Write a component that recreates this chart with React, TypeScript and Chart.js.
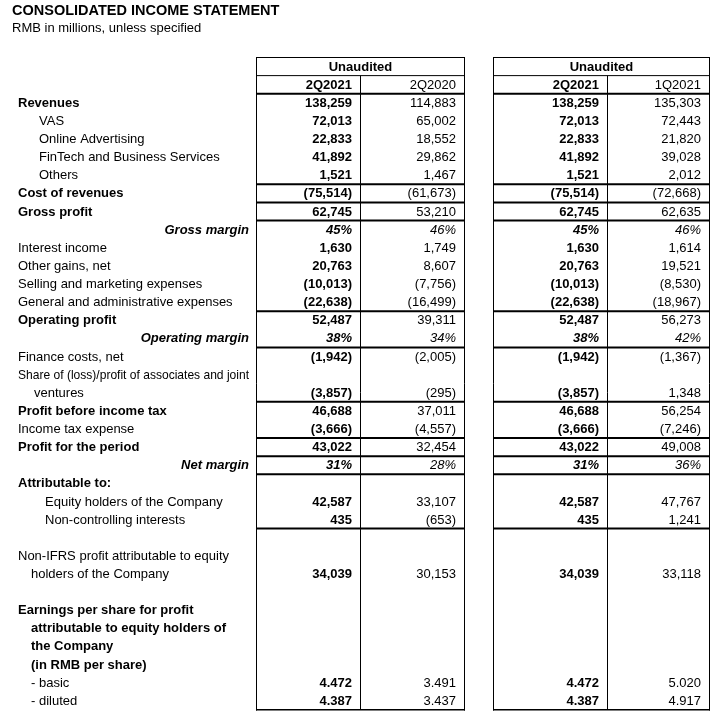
import React, { useEffect, useRef } from "react";
import { Chart, registerables } from "chart.js";

Chart.register(...registerables);

// ---------------- data ----------------
const TITLE = "CONSOLIDATED INCOME STATEMENT";
const SUBTITLE = "RMB in millions, unless specified";
const GROUP_HEADER = "Unaudited";
const PERIODS = ["2Q2021", "2Q2020", "2Q2021", "1Q2021"];

const ROW_LABELS = [
  "Revenues",
  "VAS",
  "Online Advertising",
  "FinTech and Business Services",
  "Others",
  "Cost of revenues",
  "Gross profit",
  "Gross margin",
  "Interest income",
  "Other gains, net",
  "Selling and marketing expenses",
  "General and administrative expenses",
  "Operating profit",
  "Operating margin",
  "Finance costs, net",
  "Share of (loss)/profit of associates and joint",
  "ventures",
  "Profit before income tax",
  "Income tax expense",
  "Profit for the period",
  "Net margin",
  "Attributable to:",
  "Equity holders of the Company",
  "Non-controlling interests",
  "",
  "Non-IFRS profit attributable to equity",
  "holders of the Company",
  "",
  "Earnings per share for profit",
  "attributable to equity holders of",
  "the Company",
  "(in RMB per share)",
  "- basic",
  "- diluted",
];

// value kinds per row: a = amount (RMB mn), p = percent, e = per-share, - = none
const ROW_KINDS = "aaaaaaapaaaaapa-aaaapaaa--a-----ee".split("");

const Q2_2021 = [
  138259, 72013, 22833, 41892, 1521, -75514, 62745, 45, 1630, 20763, -10013,
  -22638, 52487, 38, -1942, null, -3857, 46688, -3666, 43022, 31, null, 42587,
  435, null, null, 34039, null, null, null, null, null, 4.472, 4.387,
];
const Q2_2020 = [
  114883, 65002, 18552, 29862, 1467, -61673, 53210, 46, 1749, 8607, -7756,
  -16499, 39311, 34, -2005, null, -295, 37011, -4557, 32454, 28, null, 33107,
  -653, null, null, 30153, null, null, null, null, null, 3.491, 3.437,
];
const Q2_2021_QOQ = [
  138259, 72013, 22833, 41892, 1521, -75514, 62745, 45, 1630, 20763, -10013,
  -22638, 52487, 38, -1942, null, -3857, 46688, -3666, 43022, 31, null, 42587,
  435, null, null, 34039, null, null, null, null, null, 4.472, 4.387,
];
const Q1_2021 = [
  135303, 72443, 21820, 39028, 2012, -72668, 62635, 46, 1614, 19521, -8530,
  -18967, 56273, 42, -1367, null, 1348, 56254, -7246, 49008, 36, null, 47767,
  1241, null, null, 33118, null, null, null, null, null, 5.02, 4.917,
];

const VALUE_COLUMNS = [Q2_2021, Q2_2020, Q2_2021_QOQ, Q1_2021];

// ---------------- styles / layout ----------------
const FONT = '"Liberation Sans", Arial, Helvetica, sans-serif';

// per row: weight, italic flag, indent key, border below (px width, 0 none)
type RowStyle = { bold: boolean; italic?: boolean; indent: string; border: number };
const ROW_STYLES: RowStyle[] = [
  { bold: true, indent: "l0", border: 0 },
  { bold: false, indent: "sub", border: 0 },
  { bold: false, indent: "sub", border: 0 },
  { bold: false, indent: "sub", border: 0 },
  { bold: false, indent: "sub", border: 2 },
  { bold: true, indent: "l0", border: 2 },
  { bold: true, indent: "l0", border: 2 },
  { bold: true, italic: true, indent: "right", border: 0 },
  { bold: false, indent: "l0", border: 0 },
  { bold: false, indent: "l0", border: 0 },
  { bold: false, indent: "l0", border: 0 },
  { bold: false, indent: "l0", border: 2 },
  { bold: true, indent: "l0", border: 0 },
  { bold: true, italic: true, indent: "right", border: 2 },
  { bold: false, indent: "l0", border: 0 },
  { bold: false, indent: "l0", border: 0 },
  { bold: false, indent: "wrapA", border: 2 },
  { bold: true, indent: "l0", border: 0 },
  { bold: false, indent: "l0", border: 2 },
  { bold: true, indent: "l0", border: 2 },
  { bold: true, italic: true, indent: "right", border: 2 },
  { bold: true, indent: "l0", border: 0 },
  { bold: false, indent: "attr", border: 0 },
  { bold: false, indent: "attr", border: 2 },
  { bold: false, indent: "l0", border: 0 },
  { bold: false, indent: "l0", border: 0 },
  { bold: false, indent: "wrapB", border: 0 },
  { bold: false, indent: "l0", border: 0 },
  { bold: true, indent: "l0", border: 0 },
  { bold: true, indent: "wrapB", border: 0 },
  { bold: true, indent: "wrapB", border: 0 },
  { bold: true, indent: "wrapB", border: 0 },
  { bold: false, indent: "wrapB", border: 0 },
  { bold: false, indent: "wrapB", border: 0 },
];

const LAYOUT = {
  width: 714,
  height: 716,
  tableTop: 57.5,
  tableBottom: 709.8,
  titleX: 12,
  titleBaseline: 15,
  subtitleBaseline: 32,
  boxes: [
    [256.5, 464.5],
    [493.5, 709.5],
  ],
  dividers: [360.5, 607.5],
  cellPadRight: 8.5,
  indents: { l0: 18, sub: 39, attr: 45, wrapA: 34, wrapB: 31 } as Record<string, number>,
  labelRight: 249,
  fontSize: 13,
};

const HEADER_ROWS = 2; // "Unaudited" row + period row
const ALL_ROWS = [GROUP_HEADER, "Period", ...ROW_LABELS];

function formatValue(v: number | null, kind: string): string {
  if (v === null || v === undefined) return "";
  if (kind === "p") return `${v}%`;
  if (kind === "e") return v.toFixed(3);
  const s = Math.abs(v).toLocaleString("en-US");
  return v < 0 ? `(${s})` : s;
}

function font(bold: boolean, italic = false, size = LAYOUT.fontSize) {
  return `${italic ? "italic " : ""}${bold ? "bold " : ""}${size}px ${FONT}`;
}

const tablePlugin = {
  id: "incomeStatementTable",
  afterDraw(chart: any) {
    const ctx: CanvasRenderingContext2D = chart.ctx;
    const xs = chart.scales.x;
    const ys = chart.scales.y;
    const px = (v: number) => xs.getPixelForValue(v);
    const py = (i: number) => ys.getPixelForValue(i);
    const edge = (i: number) => py(i - 0.5); // boundary above row i

    ctx.save();
    ctx.fillStyle = "#000";
    ctx.strokeStyle = "#000";

    // title + subtitle
    ctx.textAlign = "left";
    ctx.textBaseline = "alphabetic";
    ctx.font = font(true, false, 14.5);
    ctx.fillText(TITLE, px(LAYOUT.titleX), LAYOUT.titleBaseline);
    ctx.font = font(false, false, 13);
    ctx.fillText(SUBTITLE, px(LAYOUT.titleX), LAYOUT.subtitleBaseline);

    const nRows = ALL_ROWS.length;
    const hline = (yy: number, w: number) => {
      ctx.lineWidth = w;
      LAYOUT.boxes.forEach(([a, b]) => {
        ctx.beginPath();
        ctx.moveTo(px(a) - 0.5, yy);
        ctx.lineTo(px(b) + 0.5, yy);
        ctx.stroke();
      });
    };

    // horizontal borders
    hline(edge(0), 1);
    hline(edge(1), 1);
    hline(edge(2), 2);
    ROW_STYLES.forEach((st, r) => {
      if (st.border) hline(edge(r + HEADER_ROWS + 1), st.border);
    });
    hline(edge(nRows), 1.5);

    // vertical borders
    ctx.lineWidth = 1;
    LAYOUT.boxes.forEach(([a, b]) => {
      [a, b].forEach((xx) => {
        ctx.beginPath();
        ctx.moveTo(px(xx), edge(0) - 0.5);
        ctx.lineTo(px(xx), edge(nRows) + 0.75);
        ctx.stroke();
      });
    });
    LAYOUT.dividers.forEach((xx) => {
      ctx.beginPath();
      ctx.moveTo(px(xx), edge(1));
      ctx.lineTo(px(xx), edge(nRows));
      ctx.stroke();
    });

    // headers
    ctx.textBaseline = "middle";
    ctx.textAlign = "center";
    ctx.font = font(true);
    LAYOUT.boxes.forEach(([a, b]) => {
      ctx.fillText(GROUP_HEADER, px((a + b) / 2), py(0) + 0.5);
    });
    const colRight = (c: number) =>
      c % 2 === 0 ? LAYOUT.dividers[Math.floor(c / 2)] : LAYOUT.boxes[Math.floor(c / 2)][1];
    ctx.textAlign = "right";
    PERIODS.forEach((p, c) => {
      ctx.font = font(c % 2 === 0);
      ctx.fillText(p, px(colRight(c) - LAYOUT.cellPadRight), py(1) + 0.5);
    });

    // body rows
    ROW_LABELS.forEach((label, r) => {
      const st = ROW_STYLES[r];
      const yy = py(r + HEADER_ROWS) + 0.5;
      ctx.font = font(st.bold, !!st.italic);
      if (st.indent === "right") {
        ctx.textAlign = "right";
        ctx.fillText(label, px(LAYOUT.labelRight), yy);
      } else if (label) {
        ctx.textAlign = "left";
        const x0 = LAYOUT.indents[st.indent];
        ctx.fillText(label, px(x0), yy, px(LAYOUT.labelRight) - px(x0));
      }
      const kind = ROW_KINDS[r];
      ctx.textAlign = "right";
      VALUE_COLUMNS.forEach((col, c) => {
        const txt = formatValue(col[r], kind);
        if (!txt) return;
        ctx.font = font(c % 2 === 0, kind === "p");
        ctx.fillText(txt, px(colRight(c) - LAYOUT.cellPadRight), yy);
      });
    });

    ctx.restore();
  },
};

export default function App() {
  const canvasRef = useRef<HTMLCanvasElement | null>(null);

  useEffect(() => {
    if (!canvasRef.current) return;
    const chart = new Chart(canvasRef.current, {
      type: "scatter",
      data: { datasets: [] },
      options: {
        animation: false,
        responsive: false,
        maintainAspectRatio: false,
        devicePixelRatio: 1,
        events: [],
        layout: {
          padding: {
            top: LAYOUT.tableTop,
            bottom: LAYOUT.height - LAYOUT.tableBottom,
            left: 0,
            right: 0,
          },
        },
        plugins: {
          legend: { display: false },
          tooltip: { enabled: false },
          title: { display: false },
        },
        scales: {
          x: { type: "linear", min: 0, max: LAYOUT.width, display: false },
          y: {
            type: "category",
            labels: ALL_ROWS,
            offset: true,
            display: false,
          },
        },
      },
      plugins: [tablePlugin],
    } as any);
    return () => chart.destroy();
  }, []);

  return (
    <div
      style={{
        position: "fixed",
        left: 0,
        top: 0,
        width: LAYOUT.width,
        height: LAYOUT.height,
        background: "#fff",
      }}
    >
      <canvas
        ref={canvasRef}
        width={LAYOUT.width}
        height={LAYOUT.height}
        style={{ width: LAYOUT.width, height: LAYOUT.height, display: "block" }}
      />
    </div>
  );
}
